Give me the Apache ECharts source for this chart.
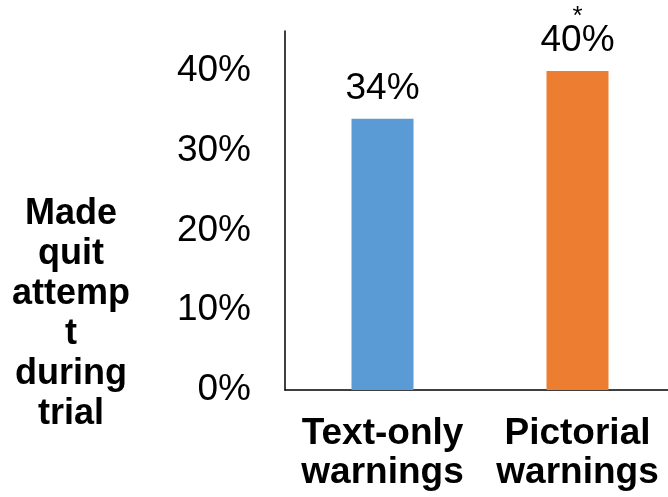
<!DOCTYPE html>
<html>
<head>
<meta charset="utf-8">
<script src="https://cdn.jsdelivr.net/npm/echarts@6/dist/echarts.min.js"></script>
<style>
html, body { margin: 0; padding: 0; background: #fff; }
#chart { width: 668px; height: 497px; }
</style>
</head>
<body>
<div id="chart"></div>
<script>
// Share of smokers who made a quit attempt, by warning type
const categories = ['Text-only\nwarnings', 'Pictorial\nwarnings'];
const quitAttempt = [34, 40];
const significance = ['', '*'];
const barColors = ['#5B9BD5', '#ED7D31'];
const yTicks = [0, 10, 20, 30, 40];
const yTitle = 'Made\nquit\nattemp\nt\nduring\ntrial';

const chart = echarts.init(document.getElementById('chart'));
const font = 'Liberation Sans, Arial, sans-serif';

chart.setOption({
  animation: false,
  grid: { left: 285, width: 390, top: 31, bottom: 107, outerBoundsMode: 'none' },
  xAxis: {
    type: 'category',
    data: categories,
    axisLine: { lineStyle: { color: '#000', width: 1.5 } },
    axisTick: { show: false },
    axisLabel: {
      color: '#000', fontFamily: font, fontSize: 37, fontWeight: 'bold',
      lineHeight: 39, margin: 24, interval: 0
    }
  },
  yAxis: {
    type: 'value',
    min: 0, max: 45, interval: 10,
    splitLine: { show: false },
    axisLine: { show: true, lineStyle: { color: '#000', width: 1.5 } },
    axisTick: { show: false },
    axisLabel: {
      color: '#000', fontFamily: font, fontSize: 37, margin: 34,
      formatter: v => yTicks.includes(v) ? v + '%' : ''
    }
  },
  graphic: [{
    type: 'text',
    x: 71, y: 314,
    style: {
      text: yTitle,
      textAlign: 'center', textVerticalAlign: 'middle',
      font: 'bold 36px ' + font,
      lineHeight: 40,
      fill: '#000'
    }
  }],
  series: [{
    type: 'bar',
    barWidth: 62,
    data: quitAttempt.map((v, i) => ({ value: v, itemStyle: { color: barColors[i] } })),
    label: {
      show: true,
      position: 'top',
      distance: 12,
      formatter: p => (significance[p.dataIndex] ? '{s|' + significance[p.dataIndex] + '}\n' : '') + '{v|' + p.value + '%}',
      rich: {
        v: { color: '#000', fontFamily: font, fontSize: 37, lineHeight: 36 },
        s: { color: '#000', fontFamily: font, fontSize: 26, lineHeight: 12 }
      }
    }
  }]
});
</script>
</body>
</html>
